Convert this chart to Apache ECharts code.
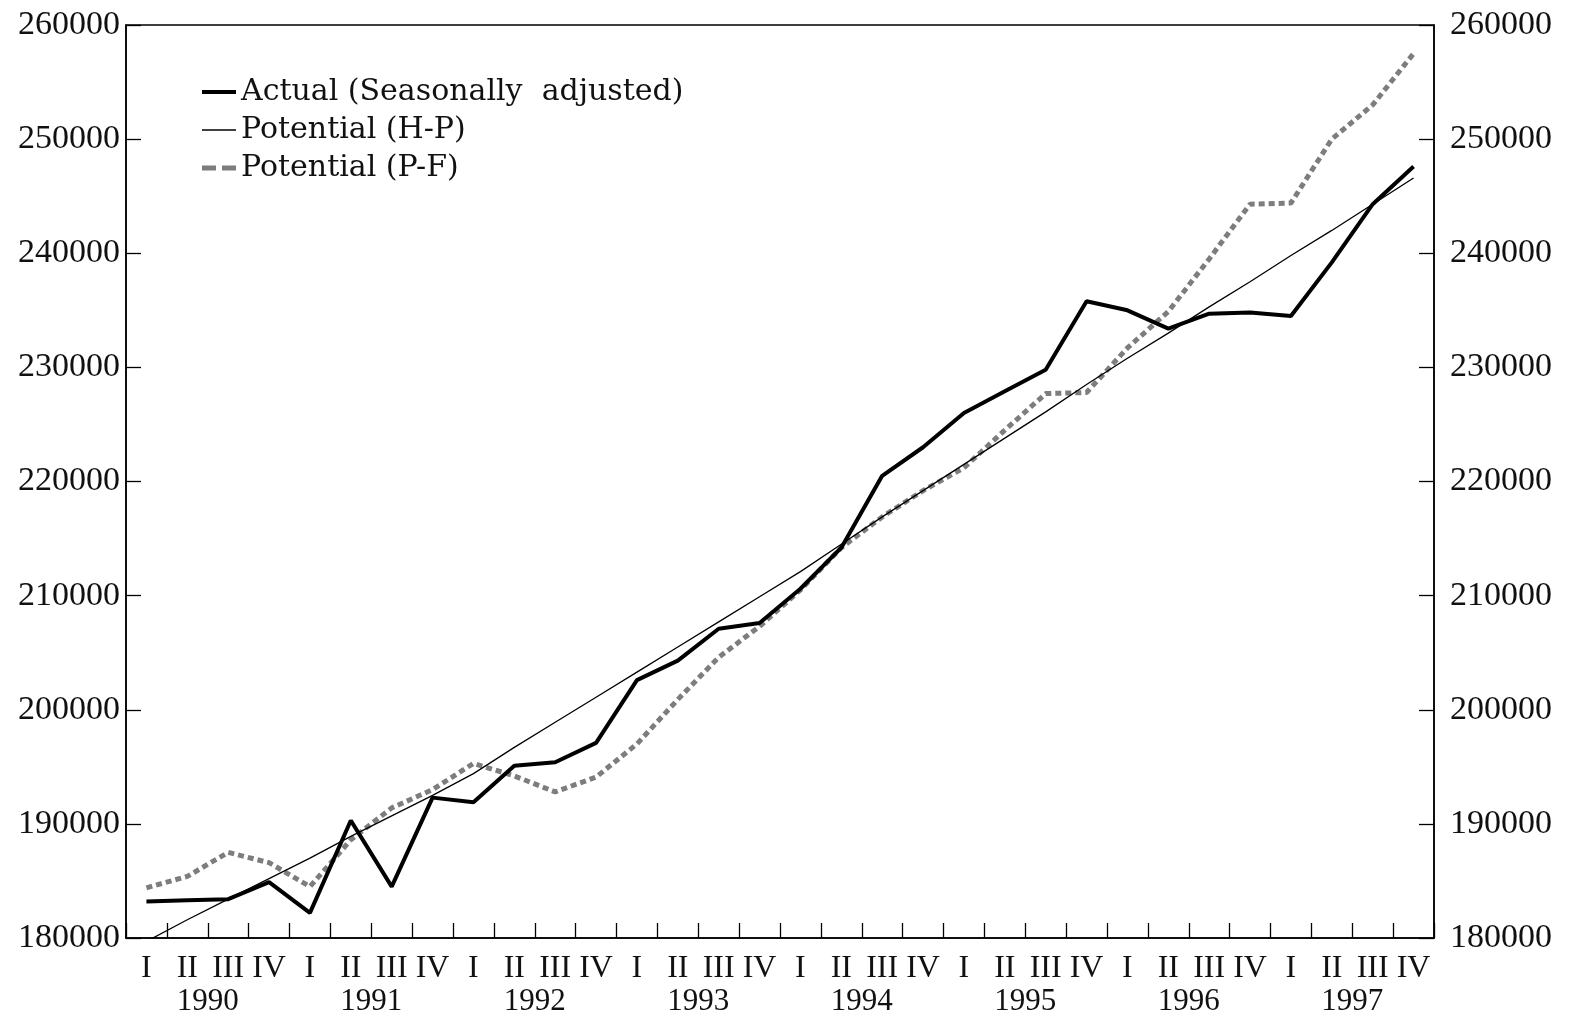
<!DOCTYPE html>
<html>
<head>
<meta charset="utf-8">
<script src="https://cdn.jsdelivr.net/npm/echarts@6/dist/echarts.min.js"></script>
<style>
html,body{margin:0;padding:0;background:#fff;}
#chart{width:1570px;height:1019px;}
</style>
</head>
<body>
<div id="chart"></div>
<script>
const quarterLabels = ['I','II','III','IV','I','II','III','IV','I','II','III','IV','I','II','III','IV',
  'I','II','III','IV','I','II','III','IV','I','II','III','IV','I','II','III','IV'];
const yearLabels = ['1990','1991','1992','1993','1994','1995','1996','1997'];
const yTicks = [180000, 260000, 10000]; // min, max, interval

const actual = [183200, 183300, 183400, 184900, 182200, 190300, 184500, 192300,
  191900, 195100, 195400, 197100, 202600, 204300, 207100, 207600,
  210600, 214200, 220500, 223000, 226000, 227900, 229800, 235800,
  235000, 233400, 234700, 234800, 234500, 239200, 244300, 247600];
const potentialHP = [179700, 181600, 183400, 185200, 187000, 188900, 190700, 192500,
  194400, 196700, 198900, 201100, 203300, 205500, 207700, 209900,
  212100, 214500, 216900, 219200, 221500, 223800, 226100, 228500,
  230800, 233000, 235300, 237500, 239800, 242000, 244300, 246600];
const potentialPF = [184400, 185400, 187500, 186600, 184500, 188600, 191400, 193000,
  195300, 194200, 192800, 194100, 197000, 200900, 204600, 207300,
  210500, 214200, 216900, 219200, 221200, 224500, 227700, 227800,
  231700, 234900, 239500, 244300, 244400, 250000, 253000, 257500];

const chart = echarts.init(document.getElementById('chart'));
const axisFont = 'Liberation Serif';
const yAxisCommon = {
  type: 'value', min: yTicks[0], max: yTicks[1], interval: yTicks[2],
  axisLine: {show: true, lineStyle: {color: '#000', width: 1.5}},
  axisTick: {show: true, inside: true, length: 15, lineStyle: {color: '#000', width: 1.3}},
  splitLine: {show: false},
  axisLabel: {color: '#111', fontFamily: axisFont, fontSize: 34, formatter: v => String(v)}
};
chart.setOption({
  animation: false,
  backgroundColor: '#fff',
  grid: {left: 126, right: 136, top: 25, bottom: 81, show: true, borderColor: '#000', borderWidth: 1.5, containLabel: false},
  legend: {
    orient: 'vertical', left: 197, top: 72, itemWidth: 34, itemHeight: 14, itemGap: 8,
    symbolKeepAspect: true,
    itemStyle: {borderWidth: 0},
    textStyle: {fontFamily: 'DejaVu Serif', fontSize: 30, color: '#111', lineHeight: 30},
    data: [
      {name: 'Actual (Seasonally  adjusted)', icon: 'path://M0,0L34,0L34,4L0,4Z', itemStyle: {color: '#000', borderWidth: 0}},
      {name: 'Potential (H-P)', icon: 'path://M0,0L34,0L34,1.4L0,1.4Z', itemStyle: {color: '#000', borderWidth: 0}},
      {name: 'Potential (P-F)', icon: 'path://M0,0L14,0L14,5L0,5ZM20,0L34,0L34,5L20,5Z', itemStyle: {color: '#7d7d7d', borderWidth: 0}}
    ]
  },
  xAxis: [{
    type: 'category', data: quarterLabels, boundaryGap: true, position: 'bottom',
    axisLine: {show: true, lineStyle: {color: '#000', width: 1.5}},
    axisTick: {show: true, inside: true, length: 15, interval: 0, lineStyle: {color: '#000', width: 1.3}},
    axisLabel: {interval: 0, margin: 15, color: '#111', fontFamily: axisFont, fontSize: 32}
  }, {
    type: 'category', data: yearLabels, boundaryGap: true, position: 'bottom', offset: 32,
    axisLine: {show: false}, axisTick: {show: false},
    axisLabel: {interval: 0, margin: 16, color: '#111', fontFamily: axisFont, fontSize: 31}
  }],
  yAxis: [
    Object.assign({}, yAxisCommon, {position: 'left', axisLabel: Object.assign({}, yAxisCommon.axisLabel, {margin: 6})}),
    Object.assign({}, yAxisCommon, {position: 'right', axisLabel: Object.assign({}, yAxisCommon.axisLabel, {margin: 16})})
  ],
  series: [
    {name: 'Actual (Seasonally  adjusted)', type: 'line', data: actual, symbol: 'none',
     lineStyle: {color: '#000', width: 4}, itemStyle: {color: '#000'}, z: 4},
    {name: 'Potential (H-P)', type: 'line', data: potentialHP, symbol: 'none',
     lineStyle: {color: '#000', width: 1.3}, itemStyle: {color: '#000'}, z: 3},
    {name: 'Potential (P-F)', type: 'line', data: potentialPF, symbol: 'none',
     lineStyle: {color: '#7d7d7d', width: 5, type: [6, 4]}, itemStyle: {color: '#7d7d7d'}, z: 2}
  ]
});
</script>
</body>
</html>
